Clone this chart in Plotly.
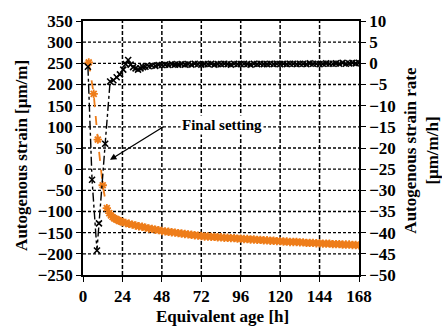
import plotly.graph_objects as go

# Autogenous strain [μm/m] (left axis, orange)
strain_t = [3.5, 6.5, 9, 12, 14.5, 16, 17, 18, 19, 20, 21, 22, 23,
            24, 26, 28, 30, 32, 34, 36, 38, 40, 42, 44, 46, 48, 50, 52, 54, 56, 58,
            60, 62, 64, 66, 68, 70, 72, 74, 76, 78, 80, 82, 84, 86, 88, 90, 92, 94,
            96, 98, 100, 102, 104, 106, 108, 110, 112, 114, 116, 118, 120, 122, 124,
            126, 128, 130, 132, 134, 136, 138, 140, 142, 144, 146, 148, 150, 152,
            154, 156, 158, 160, 162, 164, 166, 168]
strain_v = [252, 178, 70, -38, -92, -104, -109, -113, -116, -118, -120, -122, -123,
            -125, -127, -129, -131, -133, -135, -136, -138, -140, -141, -143, -144, -146,
            -147, -148, -149, -150, -151, -152, -153, -154, -155, -156, -157, -158,
            -159, -159, -160, -160, -161, -161, -162, -162, -163, -163, -164, -164,
            -165, -165, -166, -166, -167, -167, -168, -168, -169, -169, -170, -170,
            -171, -171, -172, -172, -172, -173, -173, -174, -174, -174, -175, -175,
            -176, -176, -176, -177, -177, -177, -178, -178, -178, -179, -179, -180]

# Autogenous strain rate [μm/m/h] (right axis, black)
rate_t = [3, 5.5, 8.5, 9.7, 13.5, 16.5, 18.5, 20.5, 22.5, 24.5, 26, 27.5, 29, 30.5,
          32, 33.5, 35, 36.5, 38, 40, 42, 44, 46, 48, 50, 52, 54, 56, 58, 60, 62, 64,
          66, 68, 70, 72, 74, 76, 78, 80, 82, 84, 86, 88, 90, 92, 94, 96, 98, 100,
          102, 104, 106, 108, 110, 112, 114, 116, 118, 120, 122, 124, 126, 128, 130,
          132, 134, 136, 138, 140, 142, 144, 146, 148, 150, 152, 154, 156, 158, 160,
          162, 164, 166, 168]
rate_v = [-0.8, -27.5, -44.2, -37.8, -19.0, -4.3, -4.0, -3.3, -2.6, -1.5, -0.2, 0.8,
          -0.3, -0.9, -1.2, -1.5, -1.2, -0.9, -0.8, -0.7, -0.5, -0.6, -0.4, -0.4,
          -0.3, -0.4, -0.2, -0.3, -0.3, -0.2, -0.3, -0.2, -0.3, -0.1, -0.2, -0.3,
          -0.2, -0.2, -0.1, -0.3, -0.2, -0.2, -0.1, -0.2, -0.3, -0.1, -0.2, -0.2,
          -0.1, -0.2, -0.3, -0.1, -0.2, -0.1, -0.2, -0.2, -0.1, -0.2, -0.1, -0.2,
          -0.1, -0.2, -0.1, -0.1, -0.2, -0.1, -0.1, -0.2, 0.0, -0.1, -0.1, -0.2,
          -0.1, 0.0, -0.1, -0.1, 0.0, -0.1, 0.1, -0.1, 0.0, 0.1, 0.0, 0.1]

x_ticks = [0, 24, 48, 72, 96, 120, 144, 168]
y_left_ticks = list(range(-250, 351, 50))
y_right_ticks = list(range(-50, 11, 5))

FONT = "Liberation Serif, Times New Roman, serif"
ORANGE = "#EE7D1A"

fig = go.Figure()
fig.add_trace(go.Scatter(
    x=strain_t, y=strain_v, mode="lines+markers", yaxis="y",
    line=dict(color=ORANGE, width=1.8, dash="dash"),
    marker=dict(symbol="asterisk-open", size=7, color=ORANGE,
                line=dict(color=ORANGE, width=1.8)),
    showlegend=False))
fig.add_trace(go.Scatter(
    x=rate_t, y=rate_v, mode="lines+markers", yaxis="y2",
    line=dict(color="black", width=1.4, dash="dashdot"),
    marker=dict(symbol="x-thin-open", size=6, color="black",
                line=dict(color="black", width=1.6)),
    showlegend=False))

# dashed grid lines at the tick positions (vertical ones span the left y range)
shapes = []
for xv in x_ticks[1:-1]:
    shapes.append(dict(type="line", xref="x", yref="y",
                       x0=xv, x1=xv, y0=y_left_ticks[0], y1=y_left_ticks[-1],
                       line=dict(color="black", width=1.5, dash="4px,2px"),
                       layer="below"))
for yv in y_left_ticks[1:-1]:
    shapes.append(dict(type="line", xref="x", yref="y",
                       x0=x_ticks[0], x1=x_ticks[-1], y0=yv, y1=yv,
                       line=dict(color="black", width=1.3, dash="3px,2px"),
                       layer="below"))

axfont = dict(family=FONT, size=17, color="black", weight="bold")
fig.update_layout(
    width=442, height=330,
    margin=dict(l=83, r=83, t=15, b=55),
    paper_bgcolor="white", plot_bgcolor="white",
    font=dict(family=FONT, size=17, color="black", weight="bold"),
    shapes=shapes,
    xaxis=dict(range=[0, 168], tickvals=x_ticks, showgrid=False,
               showline=True, linecolor="black", linewidth=1.5, mirror=True,
               ticks="outside", ticklen=5, tickcolor="black", zeroline=False,
               tickfont=axfont),
    yaxis=dict(range=[-250, 350], tickvals=y_left_ticks, showgrid=False,
               showline=True, linecolor="black", linewidth=1.5,
               ticks="outside", ticklen=5, tickcolor="black", zeroline=False,
               tickfont=axfont),
    yaxis2=dict(range=[-50, 10], tickvals=y_right_ticks,
                overlaying="y", side="right", showgrid=False,
                showline=True, linecolor="black", linewidth=1.5,
                ticks="outside", ticklen=5, tickcolor="black", zeroline=False,
                tickfont=axfont),
    annotations=[
        dict(text="Equivalent age [h]", xref="paper", yref="paper",
             x=0.504, y=-0.165, xanchor="center", yanchor="middle",
             showarrow=False, font=axfont),
        dict(text="Autogenous strain [μm/m]", xref="paper", yref="paper",
             x=-0.221, y=0.469, xanchor="center", yanchor="middle",
             textangle=-90, showarrow=False, font=axfont),
        dict(text="Autogenous strain rate<br>[μm/m/h]", xref="paper", yref="paper",
             x=1.225, y=0.49, xanchor="center", yanchor="middle",
             textangle=-90, showarrow=False, font=axfont),
        dict(text="Final setting", x=84.6, y=105, xref="x", yref="y",
             xanchor="center", yanchor="middle", showarrow=False,
             font=dict(family=FONT, size=15, color="black", weight="bold"),
             bgcolor="white"),
        dict(text="", x=16.4, y=22, xref="x", yref="y", ax=55, ay=-34,
             showarrow=True, arrowhead=2, arrowsize=1, arrowwidth=1.3,
             arrowcolor="black"),
    ],
)

fig.write_html("out.html")
